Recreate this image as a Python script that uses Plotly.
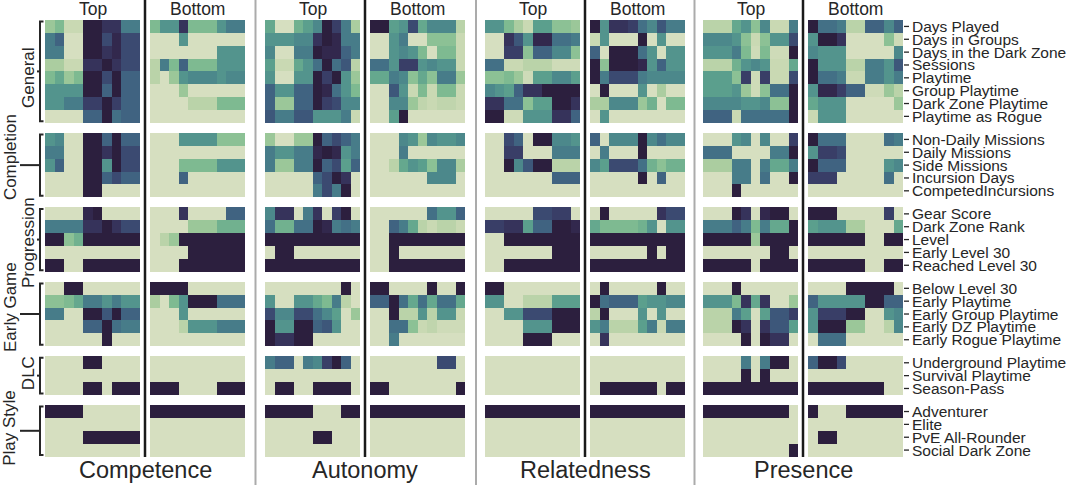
import numpy as np
import plotly.graph_objects as go

# ---------------- data ----------------
group_names = ["General", "Completion", "Progression", "Early Game", "DLC", "Play Style"]
row_labels = [
    ["Days Played", "Days in Groups", "Days in the Dark Zone", "Sessions", "Playtime",
     "Group Playtime", "Dark Zone Playtime", "Playtime as Rogue"],
    ["Non-Daily Missions", "Daily Missions", "Side Missions", "Incursion Days", "CompetedIncursions"],
    ["Gear Score", "Dark Zone Rank", "Level", "Early Level 30", "Reached Level 30"],
    ["Below Level 30", "Early Playtime", "Early Group Playtime", "Early DZ Playtime", "Early Rogue Playtime"],
    ["Underground Playtime", "Survival Playtime", "Season-Pass"],
    ["Adventurer", "Elite", "PvE All-Rounder", "Social Dark Zone"],
]
needs = ["Competence", "Autonomy", "Relatedness", "Presence"]
halves = ["Top", "Bottom"]

competence_top = [
    [2, 3, 0.5, 0.5, 10, 10, 9, 9, 6, 6],
    [6, 7, 0, 0, 10, 10, 8, 9.5, 8, 8],
    [6, 6, 0, 0, 10, 10, 9, 9.5, 8, 8],
    [1.5, 1.5, 0.5, 0.5, 9, 9, 10, 9, 8, 8],
    [3, 4, 2, 3, 10, 10, 8, 10, 7, 7],
    [5, 5, 5, 5, 10, 10, 7, 10, 7, 7],
    [5, 5, 6, 6, 8.5, 8.5, 10, 8.5, 7, 7],
    [0, 0, 0, 0, 7, 7, 10, 6.5, 7, 7],
    [5, 5.5, 0, 0, 10, 10, 7, 10, 7, 7],
    [6, 6, 0, 0, 10, 10, 9, 10, 8, 8],
    [5, 7, 0, 0, 10, 10, 5, 10, 8, 8],
    [0, 0, 0, 0, 10, 10, 7, 8, 7, 7],
    [0, 0, 0, 0, 10, 10, 0, 0, 0, 0],
    [0, 0, 0, 0, 9.5, 10, 0, 0, 0, 0],
    [6, 6, 6, 6, 9, 9, 10, 9, 8, 8],
    [10, 10, 2.5, 3.5, 10, 10, 10, 10, 10, 10],
    [0, 0, 0, 0, 0, 0, 0, 0, 0, 0],
    [10, 10, 0, 0, 10, 10, 10, 10, 10, 10],
    [0, 0, 10, 10, 0, 0, 0, 0, 0, 0],
    [2.5, 2.5, 3, 4, 6, 6, 5, 6, 5, 5],
    [6, 6, 0, 0, 10, 10, 7.5, 10, 7, 7],
    [0, 0, 0, 0, 7, 7, 10, 6.5, 6, 6],
    [0, 0, 0, 0, 0, 0, 10, 0, 0, 0],
    [0, 0, 0, 0, 10, 10, 0, 0, 0, 0],
    [0, 0, 0, 0, 0, 0, 0, 0, 0, 0],
    [0, 0, 0, 0, 10, 10, 0, 10, 10, 10],
    [10, 10, 10, 10, 0, 0, 0, 0, 0, 0],
    [0, 0, 0, 0, 0, 0, 0, 0, 0, 0],
    [0, 0, 0, 0, 10, 10, 10, 10, 10, 10],
    [0, 0, 0, 0, 0, 0, 0, 0, 0, 0],
]
competence_bottom = [
    [3, 5, 5, 9, 3, 3, 3, 5, 6, 6],
    [0, 0, 0, 5, 0, 0, 0, 0, 0, 0],
    [0, 0, 0, 0, 0, 0, 0, 5, 5, 5],
    [1, 6, 3, 7, 3, 3, 3, 5, 5, 5],
    [1, 0, 2, 5, 5.5, 5.5, 5.5, 5, 5.5, 5.5],
    [0, 0, 0, 2, 0, 0, 0, 0, 0, 0],
    [0, 0, 0, 0, 1, 1, 1, 3, 3, 3],
    [0, 0, 0, 0, 0, 0, 0, 0, 0, 0],
    [0, 0, 0, 5, 5, 5, 5, 2.5, 2.5, 2.5],
    [0, 0, 0, 0, 0, 0, 0, 0, 0, 0],
    [0, 0, 0, 3, 3, 3, 3, 5, 5, 5],
    [0, 0, 0, 7, 0, 0, 0, 0, 0, 0],
    [0, 0, 0, 0, 0, 0, 0, 0, 0, 0],
    [0, 0, 0, 9, 0, 0, 0, 0, 7, 7],
    [0, 0, 0, 0, 2, 2, 2, 3.5, 3.5, 3.5],
    [0, 1, 2, 10, 10, 10, 10, 10, 10, 10],
    [0, 0, 0, 0, 10, 10, 10, 10, 10, 10],
    [0, 0, 0, 10, 10, 10, 10, 10, 10, 10],
    [10, 10, 10, 10, 0, 0, 0, 0, 0, 0],
    [1.5, 0, 3, 5, 10, 10, 10, 6.5, 6.5, 6.5],
    [0, 0, 0, 5, 0, 0, 0, 0, 0, 0],
    [0, 0, 0, 1, 5, 5, 5, 6, 6, 6],
    [0, 0, 0, 0, 0, 0, 0, 0, 0, 0],
    [0, 0, 0, 0, 0, 0, 0, 0, 0, 0],
    [0, 0, 0, 0, 0, 0, 0, 0, 0, 0],
    [10, 10, 10, 0, 0, 0, 0, 10, 10, 10],
    [10, 10, 10, 10, 10, 10, 10, 10, 10, 10],
    [0, 0, 0, 0, 0, 0, 0, 0, 0, 0],
    [0, 0, 0, 0, 0, 0, 0, 0, 0, 0],
    [0, 0, 0, 0, 0, 0, 0, 0, 0, 0],
]
autonomy_top = [
    [4, 0, 0, 3.5, 4.5, 5.5, 10, 8.5, 6, 1.5],
    [5, 5, 5, 5.5, 5.5, 9, 10, 9.5, 6, 6],
    [5.5, 0, 0, 6, 6, 10, 9.5, 9.5, 7, 6],
    [4.5, 0.5, 0.5, 4, 5, 6.5, 10, 6.5, 7.5, 1],
    [5, 0, 0, 5, 5, 10, 8.5, 10, 5, 2],
    [7, 5, 5, 7, 7, 10, 9.5, 6.5, 5, 3],
    [7, 2, 2, 7, 7, 10, 8.5, 8, 5.5, 5.5],
    [7.5, 6, 6, 7.5, 7.5, 5, 5, 5, 6, 0.5],
    [2, 0, 0, 2, 2, 10, 7, 8, 7, 6],
    [6, 5, 5, 6, 6, 9.5, 10, 9.5, 5, 6],
    [6, 2, 2, 6, 6, 10, 7, 8, 4.5, 7],
    [0, 0, 0, 0, 0, 7, 8, 10, 9, 0],
    [0, 0, 0, 0, 0, 6, 8, 6, 10, 0],
    [5.5, 9, 9, 0, 6, 9, 0, 8.5, 10, 0],
    [6.5, 3.5, 3.5, 6.5, 6.5, 10, 9.5, 6, 6.5, 6],
    [10, 10, 10, 10, 10, 10, 10, 10, 10, 10],
    [0, 10, 10, 0, 0, 0, 0, 0, 0, 0],
    [10, 10, 10, 10, 10, 10, 10, 10, 10, 10],
    [0, 0, 0, 0, 0, 0, 0, 0, 10, 0],
    [5, 0, 0, 5, 5, 4, 3, 6, 1, 0],
    [8, 5.5, 5.5, 8, 8, 6.5, 5.5, 4.5, 0, 2],
    [10, 5, 5, 10, 10, 7, 7.5, 5, 0, 0],
    [10, 9, 9, 10, 10, 0, 0, 0, 0, 0],
    [6, 7, 7, 0, 6, 5.5, 8.5, 10, 7, 0],
    [0, 0, 0, 0, 0, 0, 0, 0, 0, 0],
    [0, 10, 10, 0, 0, 10, 10, 10, 10, 0],
    [10, 10, 10, 10, 10, 0, 0, 0, 10, 10],
    [0, 0, 0, 0, 0, 0, 0, 0, 0, 0],
    [0, 0, 0, 0, 0, 10, 10, 0, 0, 0],
    [0, 0, 0, 0, 0, 0, 0, 0, 0, 0],
]
autonomy_bottom = [
    [10, 10, 4.5, 5, 8, 4, 5.5, 5.5, 5.5, 1],
    [0, 0, 5, 6, 0, 0, 2.5, 2.5, 2.5, 0.5],
    [0, 0, 5, 5.5, 5, 3, 0, 3, 3, 0.5],
    [6.5, 6.5, 5, 8.5, 8.5, 5, 5.5, 5, 5, 0.5],
    [4, 4, 6, 5.5, 2.5, 4, 2.5, 6, 6, 2],
    [0, 0, 7.5, 5, 0.5, 3, 0.5, 3, 3, 0.5],
    [0, 0, 5.5, 5.5, 2, 0.8, 0.5, 0.8, 0.8, 0.5],
    [0, 0, 4.5, 10, 0, 0, 0, 0, 0, 0],
    [0, 0, 0, 5.5, 5, 2, 5.5, 5, 5, 5.5],
    [0, 0, 0, 6, 0, 0, 0, 0, 0, 0],
    [0, 0, 1, 4, 5, 4.5, 2.5, 5.5, 5.5, 1.5],
    [0, 0, 0, 0, 0, 0, 5.5, 5.5, 5.5, 0],
    [0, 0, 0, 0, 0, 0, 0, 0, 0, 0],
    [0, 0, 0, 0, 0, 0, 6.5, 5, 5, 7],
    [0, 0, 7, 6, 4, 1, 0.5, 1, 1, 0.5],
    [0, 0, 10, 10, 10, 10, 10, 10, 10, 10],
    [0, 0, 10, 0, 0, 0, 0, 0, 0, 0],
    [0, 0, 10, 10, 10, 10, 10, 10, 10, 10],
    [10, 10, 0, 0, 0, 0, 10, 0, 0, 10],
    [7, 7, 10, 6.5, 4, 6.5, 4, 6.5, 6.5, 4],
    [0, 0, 10, 1, 1, 5, 1, 5, 5, 0.5],
    [0, 0, 6.5, 6.5, 2.5, 0.5, 0.8, 0.3, 0.3, 0.3],
    [0, 0, 6, 0, 0, 0, 0, 0, 0, 0],
    [0, 0, 0, 0, 0, 0, 0, 8, 8, 0],
    [0, 0, 0, 0, 0, 0, 0, 0, 0, 0],
    [10, 10, 0, 0, 0, 0, 0, 0, 0, 10],
    [10, 10, 10, 10, 10, 10, 10, 10, 10, 10],
    [0, 0, 0, 0, 0, 0, 0, 0, 0, 0],
    [0, 0, 0, 0, 0, 0, 0, 0, 0, 0],
    [0, 0, 0, 0, 0, 0, 0, 0, 0, 0],
]
relatedness_top = [
    [5, 5, 3, 1.5, 0.5, 4.5, 4.5, 2.5, 2.5, 2],
    [0, 0, 9, 7.5, 5, 9.5, 9.5, 6.5, 6.5, 6],
    [0, 0, 8.5, 8.5, 2.5, 7, 7, 5.5, 5.5, 2.5],
    [6.5, 6.5, 0.5, 0.5, 1, 1, 1, 0.3, 0.3, 0.3],
    [2.5, 2.5, 3, 2, 0.3, 4.5, 4.5, 5.5, 5.5, 4.5],
    [5.5, 5, 4.5, 7, 9, 9, 10, 10, 10, 10],
    [9, 9, 6.5, 6.5, 2.5, 4.5, 4.5, 10, 10, 9],
    [10, 10, 0.3, 0.3, 5, 5, 5, 9, 9, 7],
    [0, 0, 8, 7, 0, 10, 10, 5.5, 5.5, 5],
    [0, 0, 8.5, 8.5, 0, 0, 0, 6, 6, 6],
    [0, 0, 10, 5.5, 7.5, 10, 10, 1, 1, 1],
    [0, 0, 0, 0, 0, 0, 0, 7, 7, 7],
    [0, 0, 0, 0, 0, 0, 0, 0, 0, 0],
    [0, 0, 0, 0, 0, 8, 8, 8.5, 8.5, 0],
    [8.5, 8.5, 9, 9, 4.5, 7, 7, 10, 10, 9.5],
    [0, 0, 10, 10, 10, 10, 10, 10, 10, 10],
    [0, 0, 0, 0, 0, 0, 0, 10, 10, 10],
    [0, 0, 10, 10, 10, 10, 10, 10, 10, 10],
    [10, 10, 0, 0, 0, 0, 0, 0, 0, 0],
    [5, 5, 0, 0, 1, 1, 1, 4.5, 4.5, 4.5],
    [0, 0, 5, 5, 8, 8, 8, 10, 10, 10],
    [0, 0, 0, 0, 5, 5, 5, 10, 10, 10],
    [0, 0, 0, 0, 10, 10, 10, 0, 0, 0],
    [0, 0, 0, 0, 0, 0, 0, 0, 0, 0],
    [0, 0, 0, 0, 0, 0, 0, 0, 0, 0],
    [0, 0, 0, 0, 0, 0, 0, 0, 0, 0],
    [10, 10, 10, 10, 10, 10, 10, 10, 10, 10],
    [0, 0, 0, 0, 0, 0, 0, 0, 0, 0],
    [0, 0, 0, 0, 0, 0, 0, 0, 0, 0],
    [0, 0, 0, 0, 0, 0, 0, 0, 0, 0],
]
relatedness_bottom = [
    [10, 5, 9, 9, 8.5, 6.5, 5.5, 7.5, 6, 6],
    [0.5, 5, 0, 0, 0, 10, 0, 5, 0, 0],
    [7, 0, 10, 10, 10, 6.5, 5, 0, 5, 5],
    [10, 2.5, 10, 10, 10, 9.5, 5, 7, 5, 5],
    [10, 6, 8, 8, 8, 6, 5.5, 5.5, 5.5, 5.5],
    [0, 10, 0, 0, 0, 5, 0, 1.5, 0, 0],
    [1.5, 1.5, 5.5, 5.5, 5.5, 2, 3.5, 0, 3, 3],
    [0, 5, 0, 0, 0, 0, 0, 0, 0, 0],
    [7, 0, 5.5, 5.5, 5.5, 10, 5.5, 6.5, 5.5, 5.5],
    [0, 6, 0, 0, 0, 10, 0, 0, 0, 0],
    [5.5, 4.5, 8, 8, 8, 6.5, 3.5, 2.5, 3.5, 3.5],
    [0, 0, 0, 0, 0, 10, 0, 7, 0, 0],
    [0, 0, 0, 0, 0, 0, 0, 0, 0, 0],
    [0, 10, 0, 0, 0, 0, 0, 9, 8, 8],
    [4, 3, 3, 3, 3, 3.5, 5, 0, 5, 5],
    [10, 10, 10, 10, 10, 10, 10, 10, 10, 10],
    [0, 0, 0, 0, 0, 0, 10, 0, 10, 10],
    [10, 10, 10, 10, 10, 10, 10, 10, 10, 10],
    [0, 10, 0, 0, 0, 0, 0, 10, 0, 0],
    [10, 6.5, 7, 7, 7, 4.5, 5, 5, 5.5, 5.5],
    [1, 10, 0, 0, 0, 5, 0, 5, 0, 0],
    [5, 6, 1, 1, 1, 4.5, 6, 0.5, 6, 6],
    [0, 9, 0, 0, 0, 0, 0, 0, 0, 0],
    [0, 0, 0, 0, 0, 0, 0, 0, 0, 0],
    [0, 0, 0, 0, 0, 0, 0, 0, 0, 0],
    [0, 10, 10, 10, 10, 10, 10, 0, 10, 10],
    [10, 10, 10, 10, 10, 10, 10, 10, 10, 10],
    [0, 0, 0, 0, 0, 0, 0, 0, 0, 0],
    [0, 0, 0, 0, 0, 0, 0, 0, 0, 0],
    [0, 0, 0, 0, 0, 0, 0, 0, 0, 0],
]
presence_top = [
    [1, 1, 1, 4, 5, 2.5, 5.5, 0.5, 0.5, 6],
    [5.5, 5.5, 5.5, 5, 2.5, 0.5, 2.5, 5, 5, 8],
    [5, 5, 5, 6, 3, 0.3, 3, 0.3, 0.3, 10],
    [1, 1, 1, 3.5, 5, 5.5, 5, 0.5, 0.5, 4],
    [4.5, 4.5, 4.5, 2.5, 8.5, 0.3, 8.5, 0.5, 0.5, 8],
    [4.5, 4.5, 4.5, 5, 2, 0.3, 2.5, 6.5, 6.5, 10],
    [5.5, 5.5, 5.5, 5.5, 5, 5, 5.5, 2.5, 2.5, 10],
    [7, 7, 7, 0.5, 6.5, 6.5, 6.5, 6.5, 6.5, 10],
    [0, 0, 0, 5, 5.5, 0, 5.5, 0, 0, 8.5],
    [6.5, 6.5, 6.5, 0, 0, 0, 0, 6, 6, 10],
    [1.5, 1.5, 1.5, 6, 6, 0, 6, 4, 4, 6],
    [0, 0, 0, 6, 6, 0, 6.5, 0, 0, 10],
    [0, 0, 0, 10, 0, 0, 0, 0, 0, 0],
    [0, 0, 0, 10, 9, 0, 9.5, 10, 10, 0],
    [6, 6, 6, 7, 6, 3, 6, 4, 4, 10],
    [10, 10, 10, 10, 10, 2, 10, 10, 10, 10],
    [0, 0, 0, 0, 0, 0, 0, 10, 10, 0],
    [10, 10, 10, 10, 10, 0, 10, 10, 10, 10],
    [0, 0, 0, 10, 0, 0, 0, 0, 0, 0],
    [5, 5, 5, 3, 9, 4, 9, 0, 0, 2],
    [1, 1, 1, 6, 4.5, 0, 4.5, 7.5, 7.5, 8.5],
    [1, 1, 1, 10, 9, 0, 9, 7.5, 7.5, 4.5],
    [0, 0, 0, 0, 10, 0, 10, 9, 9, 0],
    [0, 0, 0, 0, 6, 0, 6, 10, 10, 0],
    [0, 0, 0, 0, 10, 0, 10, 0, 0, 0],
    [10, 10, 10, 10, 10, 10, 10, 10, 10, 10],
    [10, 10, 10, 10, 10, 10, 10, 10, 10, 0],
    [0, 0, 0, 0, 0, 0, 0, 0, 0, 0],
    [0, 0, 0, 0, 0, 0, 0, 0, 0, 0],
    [0, 0, 0, 0, 0, 0, 0, 0, 0, 10],
]
presence_bottom = [
    [10, 6.5, 6.5, 6, 1, 1, 7, 7, 5.5, 7],
    [5, 10, 10, 9, 0, 0, 0, 0, 2.5, 0.3],
    [5.5, 5, 5, 5, 0, 0, 0, 0, 0, 5.5],
    [10, 5, 5, 5, 1, 1, 6, 6, 5, 7.5],
    [10, 6.5, 6.5, 6, 0.5, 0.5, 6, 6, 5, 6],
    [5, 9.5, 9.5, 8.5, 7, 7, 0.3, 0.3, 2, 1],
    [4, 5, 5, 5, 0, 0, 0, 0, 0, 2],
    [0.5, 5, 5, 5, 0, 0, 0, 0, 0, 0],
    [10, 6.5, 6.5, 6.5, 0, 0, 0, 0, 6.5, 6],
    [5, 8.5, 8.5, 8, 0, 0, 0, 0, 0, 0],
    [10, 7, 7, 7, 0, 0, 0, 0, 5, 5.5],
    [8.5, 8.5, 8.5, 0, 0, 0, 0, 0, 6.5, 0],
    [0, 0, 0, 0, 0, 0, 0, 0, 0, 0],
    [10, 10, 10, 0, 0, 0, 0, 0, 8.5, 0],
    [4.5, 5, 5, 5, 1.5, 1.5, 0, 0, 0, 4],
    [10, 10, 10, 10, 10, 10, 0, 0, 10, 10],
    [0, 0, 0, 0, 0, 0, 0, 0, 0, 0],
    [10, 10, 10, 10, 10, 10, 0, 0, 10, 10],
    [0, 0, 0, 0, 10, 10, 10, 10, 10, 0],
    [7, 5, 5, 5, 5, 5, 10, 10, 7, 7],
    [5, 8.5, 8.5, 8.5, 10, 10, 0, 0, 5, 5.5],
    [5, 10, 10, 10, 2, 2, 0, 0, 1, 5.5],
    [0, 6.5, 6.5, 6.5, 0, 0, 0, 0, 0, 0],
    [7, 10, 10, 8, 0, 0, 0, 0, 0, 0],
    [0, 0, 0, 0, 0, 0, 0, 0, 0, 0],
    [10, 10, 10, 10, 10, 10, 10, 10, 0, 0],
    [10, 0, 0, 0, 10, 10, 10, 10, 10, 10],
    [0, 0, 0, 0, 0, 0, 0, 0, 0, 0],
    [0, 10, 10, 0, 0, 0, 0, 0, 0, 0],
    [0, 0, 0, 0, 0, 0, 0, 0, 0, 0],
]

panels = [competence_top, competence_bottom, autonomy_top, autonomy_bottom,
          relatedness_top, relatedness_bottom, presence_top, presence_bottom]

# ---------------- colormap (seaborn cubehelix start=.5, rot=-.75) ----------------
def cubehelix_scale(start=0.5, rot=-0.75, gamma=1.0, hue=0.8, light=0.85, dark=0.15, n=21):
    coeffs = [(-0.14861, 1.78277), (-0.29227, -0.90649), (1.97294, 0.0)]
    scale = []
    for i in range(n):
        t = i / (n - 1)
        x = light + (dark - light) * t
        xg = x ** gamma
        a = hue * xg * (1 - xg) / 2
        phi = 2 * np.pi * (start / 3 + rot * x)
        rgb = [min(1, max(0, xg + a * (p0 * np.cos(phi) + p1 * np.sin(phi)))) for p0, p1 in coeffs]
        scale.append([t, "rgb(%d,%d,%d)" % tuple(int(round(c * 255)) for c in rgb)])
    return scale

cscale = cubehelix_scale()

# ---------------- layout geometry (pixels) ----------------
W, H = 1067, 485
panel_x0 = [45, 150, 265, 370, 485, 590, 703, 808]
col_w = 9.5
ncols = 10
y_top = 20.0
row_h = 12.85
gap = 10.2
TXT = "#262626"
FONT = "Liberation Sans, Arial, sans-serif"
label_shift = [7, -8, 3, -7, -2, -3]

group_sizes = [len(g) for g in row_labels]
y_edges = [y_top]
row_centers = []
group_spans = []
y = y_top
for gi, n in enumerate(group_sizes):
    if gi > 0:
        y += gap
        y_edges.append(y)
    g0 = y
    for r in range(n):
        row_centers.append(y + row_h / 2)
        y += row_h
        y_edges.append(y)
    group_spans.append((g0, y))

fig = go.Figure()
for p, data in enumerate(panels):
    z = []
    k = 0
    for gi, n in enumerate(group_sizes):
        if gi > 0:
            z.append([None] * ncols)
        for r in range(n):
            z.append(data[k])
            k += 1
    xe = [panel_x0[p] + i * col_w for i in range(ncols + 1)]
    fig.add_trace(go.Heatmap(z=z, x=xe, y=y_edges, colorscale=cscale, zmin=0, zmax=10,
                             showscale=False, hoverongaps=False, xgap=0, ygap=0))

shapes = []
annotations = []
# gray separators between needs
for xs in [255.5, 476, 694.5]:
    shapes.append(dict(type="line", x0=xs, x1=xs, y0=0, y1=H, line=dict(color="#ababab", width=2)))
# black dividers between Top / Bottom
for p in range(4):
    xd = (panel_x0[2 * p] + ncols * col_w + panel_x0[2 * p + 1]) / 2
    shapes.append(dict(type="line", x0=xd, x1=xd, y0=0, y1=457, line=dict(color="#1a1a1a", width=2.5)))
    annotations.append(dict(x=xd, y=470, text=needs[p], showarrow=False, xanchor="center", yanchor="middle",
                            font=dict(size=23.5, color=TXT, family=FONT)))
    for h in range(2):
        xc = panel_x0[2 * p + h] + ncols * col_w / 2
        annotations.append(dict(x=xc, y=8.5, text=halves[h], showarrow=False, xanchor="center", yanchor="middle",
                                font=dict(size=17.5, color=TXT, family=FONT)))

# row labels with tick marks
flat_labels = [l for g in row_labels for l in g]
x_right = panel_x0[-1] + ncols * col_w
for yc, lab in zip(row_centers, flat_labels):
    shapes.append(dict(type="line", x0=x_right + 1, x1=x_right + 6, y0=yc, y1=yc, line=dict(color=TXT, width=1.3)))
    annotations.append(dict(x=x_right + 6.5, y=yc, text=lab, showarrow=False, xanchor="left", yanchor="middle",
                            font=dict(size=15.5, color=TXT, family=FONT)))

# group brackets and labels
bx = 40
for gi, (g0, g1) in enumerate(group_spans):
    a, b = g0 + 1.5, g1 - 1.5
    mid = (g0 + g1) / 2
    shapes.append(dict(type="path", path=f"M {bx+3.5},{a} L {bx},{a} L {bx},{b} L {bx+3.5},{b}",
                       line=dict(color=TXT, width=2)))
    far = gi % 2 == 1
    tick_x0 = 20 if far else bx - 3
    shapes.append(dict(type="line", x0=tick_x0, x1=bx, y0=mid, y1=mid, line=dict(color=TXT, width=2)))
    lx = 10 if far else 28.5
    annotations.append(dict(x=lx, y=mid + label_shift[gi], text=group_names[gi], showarrow=False, textangle=-90,
                            xanchor="center", yanchor="middle", font=dict(size=17, color=TXT, family=FONT)))

fig.update_layout(
    width=W, height=H, margin=dict(l=0, r=0, t=0, b=0),
    paper_bgcolor="white", plot_bgcolor="white",
    xaxis=dict(range=[0, W], visible=False, fixedrange=True),
    yaxis=dict(range=[H, 0], visible=False, fixedrange=True),
    shapes=shapes, annotations=annotations, showlegend=False,
)
fig.write_html("out.html")
